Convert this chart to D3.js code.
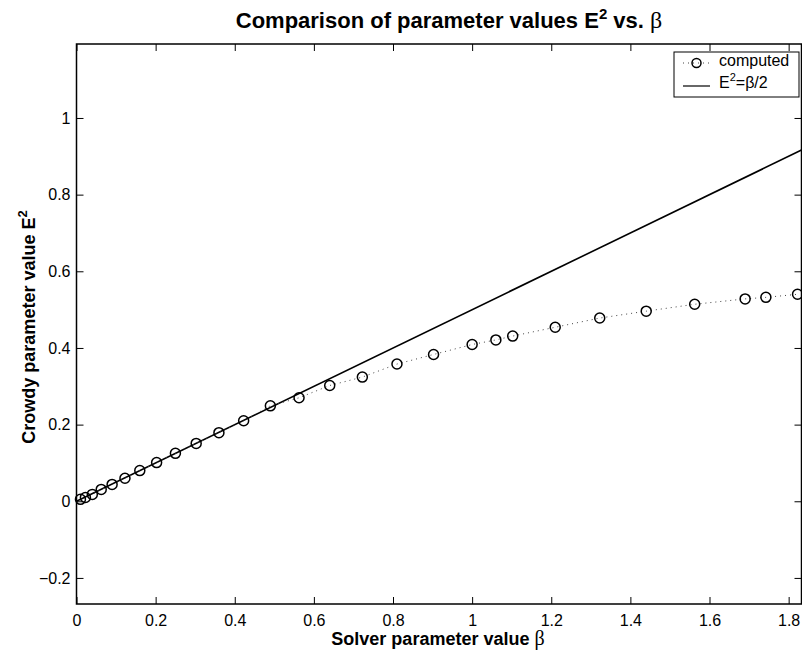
<!DOCTYPE html>
<html lang="en">
<head>
<meta charset="utf-8">
<title>E2 vs beta</title>
<script src="https://d3js.org/d3.v7.min.js"></script>
<style>
  body { margin: 0; background: #fff; }
  text { font-family: "Liberation Sans", Arial, Helvetica, sans-serif; }
</style>
</head>
<body>
<script>
// computed points
var beta = [0.01, 0.0225, 0.04, 0.0625, 0.09, 0.1225, 0.16, 0.2025, 0.25, 0.3025,
            0.36, 0.4225, 0.49, 0.5625, 0.64, 0.7225, 0.81, 0.9025, 1.0, 1.06,
            1.1025, 1.21, 1.3225, 1.44, 1.5625, 1.69, 1.7425, 1.8225];
var e2 = [0.005, 0.010, 0.018, 0.031, 0.044, 0.060, 0.080, 0.101, 0.125, 0.151,
          0.179, 0.210, 0.249, 0.270, 0.302, 0.324, 0.358, 0.383, 0.409, 0.421,
          0.431, 0.454, 0.478, 0.496, 0.514, 0.528, 0.532, 0.540];

// reference line E^2 = beta/2
var lineBeta = [0, 1.8325];
var lineE2 = [0, 0.91625];

var xTicks = [0, 0.2, 0.4, 0.6, 0.8, 1, 1.2, 1.4, 1.6, 1.8];
var yTicks = [-0.2, 0, 0.2, 0.4, 0.6, 0.8, 1];

var w = 802, h = 650;
var pLeft = 76.5, pRight = 801.5, pTop = 44, pBottom = 604;

var svg = d3.select("body").append("svg")
    .attr("width", w)
    .attr("height", h);

var x = d3.scaleLinear().domain([0, 1.8325]).range([pLeft, pRight]);
var y = d3.scaleLinear().domain([-0.268, 1.193]).range([pBottom, pTop]);

var fmt = function(d) { return d3.format("")(d).replace("-", "\u2212"); };

// axes, ticks pointing inward
svg.append("g").attr("transform", "translate(0," + pBottom + ")")
    .call(d3.axisBottom(x).tickValues(xTicks).tickSizeInner(-7).tickSizeOuter(0).tickPadding(11).tickFormat(fmt));
svg.append("g").attr("transform", "translate(0," + pTop + ")")
    .call(d3.axisTop(x).tickValues(xTicks).tickSizeInner(-7).tickSizeOuter(0).tickFormat(""));
svg.append("g").attr("transform", "translate(" + pLeft + ",0)")
    .call(d3.axisLeft(y).tickValues(yTicks).tickSizeInner(-7).tickSizeOuter(0).tickPadding(6).tickFormat(fmt));
svg.append("g").attr("transform", "translate(" + pRight + ",0)")
    .call(d3.axisRight(y).tickValues(yTicks).tickSizeInner(-7).tickSizeOuter(0).tickFormat(""));

svg.selectAll(".domain").remove();
svg.selectAll(".tick line").attr("stroke", "#000").attr("stroke-width", 1);
svg.selectAll(".tick text")
    .attr("font-family", "Liberation Sans, Arial, sans-serif")
    .attr("font-size", 16)
    .attr("fill", "#000");

// box
svg.append("rect")
    .attr("x", pLeft).attr("y", pTop)
    .attr("width", pRight - pLeft).attr("height", pBottom - pTop)
    .attr("fill", "none").attr("stroke", "#000").attr("stroke-width", 1.5);

// solid line
var line = d3.line().x(function(d) { return x(d[0]); }).y(function(d) { return y(d[1]); });
svg.append("path")
    .attr("d", line(d3.zip(lineBeta, lineE2)))
    .attr("fill", "none").attr("stroke", "#000").attr("stroke-width", 1.6);

// dotted connecting line
var pts = d3.zip(beta, e2);
svg.append("path")
    .attr("d", line(pts))
    .attr("fill", "none").attr("stroke", "#444").attr("stroke-width", 1)
    .attr("stroke-dasharray", "1,4");

svg.selectAll("circle.pt").data(pts).enter().append("circle")
    .attr("class", "pt")
    .attr("cx", function(d) { return x(d[0]); })
    .attr("cy", function(d) { return y(d[1]); })
    .attr("r", 5)
    .attr("fill", "none").attr("stroke", "#000").attr("stroke-width", 1.5);

// title
var t = svg.append("text")
    .attr("x", 449).attr("y", 28)
    .attr("text-anchor", "middle")
    .attr("font-size", 22).attr("font-weight", "bold");
t.append("tspan").text("Comparison of parameter values E");
t.append("tspan").attr("font-size", 15).attr("dy", -9).text("2");
t.append("tspan").attr("dy", 9).text(" vs. ");
t.append("tspan").attr("font-weight", "normal").attr("font-family", "Liberation Serif, serif")
    .attr("font-size", 24).text("\u03b2");

// x label
var xl = svg.append("text")
    .attr("x", 438).attr("y", 645)
    .attr("text-anchor", "middle")
    .attr("font-size", 18).attr("font-weight", "bold");
xl.append("tspan").text("Solver parameter value ");
xl.append("tspan").attr("font-weight", "normal").attr("font-family", "Liberation Serif, serif")
    .attr("font-size", 20).text("\u03b2");

// y label
var yl = svg.append("text")
    .attr("transform", "translate(35," + 327 + ") rotate(-90)")
    .attr("text-anchor", "middle")
    .attr("font-size", 18).attr("font-weight", "bold");
yl.append("tspan").text("Crowdy parameter value E");
yl.append("tspan").attr("font-size", 13).attr("dy", -8).text("2");

// legend
var lg = svg.append("g");
lg.append("rect")
    .attr("x", 674).attr("y", 52).attr("width", 125).attr("height", 45)
    .attr("fill", "#fff").attr("stroke", "#000").attr("stroke-width", 1);
lg.append("line").attr("x1", 683).attr("x2", 710).attr("y1", 63).attr("y2", 63)
    .attr("stroke", "#444").attr("stroke-dasharray", "1,4");
lg.append("circle").attr("cx", 696.5).attr("cy", 63).attr("r", 4.5)
    .attr("fill", "none").attr("stroke", "#000").attr("stroke-width", 1.5);
lg.append("text").attr("x", 719).attr("y", 66).attr("font-size", 16).text("computed");
lg.append("line").attr("x1", 683).attr("x2", 710).attr("y1", 86).attr("y2", 86)
    .attr("stroke", "#000").attr("stroke-width", 1.2);
var le = lg.append("text").attr("x", 719).attr("y", 88).attr("font-size", 16);
le.append("tspan").text("E");
le.append("tspan").attr("font-size", 11).attr("dy", -7).text("2");
le.append("tspan").attr("dy", 7).text("=\u03b2/2");
</script>
</body>
</html>
